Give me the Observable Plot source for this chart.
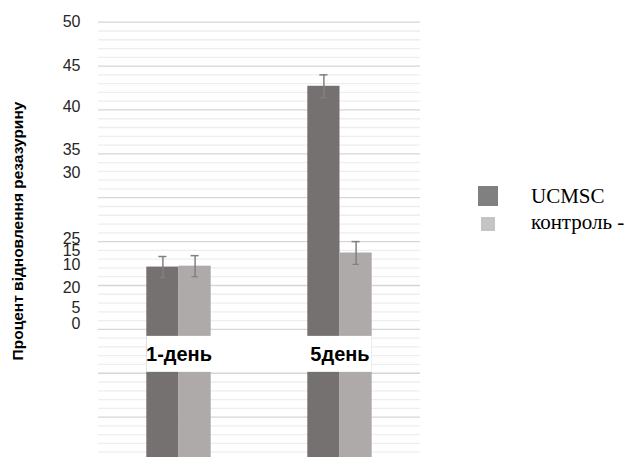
<!DOCTYPE html>
<html><head><meta charset="utf-8">
<script src="https://cdn.jsdelivr.net/npm/d3@7"></script>
<script src="https://cdn.jsdelivr.net/npm/@observablehq/plot@0.6"></script>
<style>
html,body{margin:0;padding:0;overflow:hidden;background:#fff;}
#wrap{position:relative;width:628px;height:457px;overflow:hidden;}
#chart{position:absolute;left:0;top:0;}
#ytitle{position:absolute;left:18px;top:231px;transform:translate(-50%,-50%) rotate(-90deg);white-space:nowrap;
  font-family:"Liberation Sans",Arial,sans-serif;font-weight:bold;font-size:15.5px;color:#000;}
.lg-sw{position:absolute;}
.lg-tx{position:absolute;font-family:"Liberation Serif","Times New Roman",serif;font-size:21px;color:#000;white-space:nowrap;line-height:1;transform:translateY(-50%);}
</style></head>
<body><div id="wrap"><div id="chart"></div><div id="ytitle"></div><div id="legend"></div></div>
<script>
// ---- data ----
const groups = ["1-день", "5день"];
const series = ["UCMSC", "контроль -"];
const ucmsc = [22.1, 42.7];
const control = [22.2, 23.7];
const ucmscErr = [1.2, 1.3];
const controlErr = [1.2, 1.3];
const tickLabels = ["50", "45", "40", "35", "30", "25", "15", "10", "20", "5", "0"];
const tickPos = [50, 45, 40.3, 35.5, 32.8, 25.3, 23.95, 22.3, 19.75, 17.5, 15.65];
const gridValues = d3.range(1, 51);
const labelBand = [10.1, 14.2];
const labelY = 12.1;
const yTitle = "Процент відновлення резазурину";

// ---- layout (fractions of a group band) ----
const pad = 0.3, bw = 0.2, cap = 0.025;
const barColors = ["#767171", "#AEAAAA"];
const legendColors = ["#808080", "#c4c4c4"];

const rows = groups.flatMap((g, i) => series.map((s, k) => ({
  group: g, gi: i, series: s, k,
  value: k === 0 ? ucmsc[i] : control[i],
  err: k === 0 ? ucmscErr[i] : controlErr[i]
})));
rows.forEach(d => { d.x1 = d.gi + pad + d.k * bw; d.x2 = d.x1 + bw; d.xc = (d.x1 + d.x2) / 2; });

const band = [{x1: pad, x2: groups.length - pad, y1: labelBand[0], y2: labelBand[1]}];
const ticks = tickLabels.map((t, i) => ({t, y: tickPos[i]}));

const plot = Plot.plot({
  width: 628, height: 470,
  marginLeft: 98, marginRight: 208, marginTop: 21.7, marginBottom: 9.5,
  x: {domain: [0, groups.length], axis: null},
  y: {domain: [0, 50], axis: null},
  style: {background: "white"},
  marks: [
    Plot.ruleY(gridValues, {y: d => d, stroke: d => d % 5 === 0 ? "#d6d6d6" : "#eeeeee", strokeWidth: 1.3}),
    Plot.rect(rows, {x1: "x1", x2: "x2", y1: 0, y2: "value", fill: d => barColors[d.k]}),
    Plot.ruleX(rows, {x: "xc", y1: d => d.value - d.err, y2: d => d.value + d.err, stroke: "#808080", strokeWidth: 1.5}),
    Plot.ruleY(rows, {y: d => d.value + d.err, x1: d => d.xc - cap, x2: d => d.xc + cap, stroke: "#808080", strokeWidth: 1.5}),
    Plot.ruleY(rows, {y: d => d.value - d.err, x1: d => d.xc - cap * 0.8, x2: d => d.xc + cap * 0.8, stroke: "#808080", strokeWidth: 1.2}),
    Plot.rect(band, {x1: "x1", x2: "x2", y1: "y1", y2: "y2", fill: "white"}),
    Plot.text(groups, {x: (d, i) => i + 0.5, y: () => labelY, text: d => d, fontSize: 20, fontWeight: "bold",
      fontFamily: "Liberation Sans, Arial, sans-serif", fill: "#000"}),
    Plot.text(ticks, {y: "y", text: "t", frameAnchor: "left", dx: -18, textAnchor: "end", fontSize: 16,
      fontFamily: "Liberation Sans, Arial, sans-serif", fill: "#262626"})
  ]
});
document.getElementById("chart").appendChild(plot);
document.getElementById("ytitle").textContent = yTitle;

// legend
const lg = document.getElementById("legend");
const sw = [{l: 478, t: 186, s: 20}, {l: 481, t: 217, s: 14}];
const ty = [196, 222];
series.forEach((s, k) => {
  const b = document.createElement("div");
  b.className = "lg-sw";
  Object.assign(b.style, {left: sw[k].l + "px", top: sw[k].t + "px", width: sw[k].s + "px", height: sw[k].s + "px", background: legendColors[k]});
  lg.appendChild(b);
  const t = document.createElement("div");
  t.className = "lg-tx";
  t.textContent = s;
  Object.assign(t.style, {left: "531px", top: ty[k] + "px"});
  lg.appendChild(t);
});
</script></body></html>
